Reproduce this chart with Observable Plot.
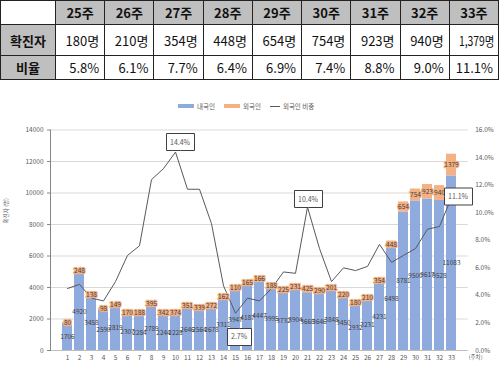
<!DOCTYPE html>
<html><head><meta charset="utf-8">
<script src="https://cdn.jsdelivr.net/npm/d3@7"></script>
<script src="https://cdn.jsdelivr.net/npm/@observablehq/plot@0.6"></script>
<style>
body{margin:0;background:#fff;font-family:"Noto Sans CJK KR",sans-serif;}
#wrap{position:relative;width:500px;height:366px;overflow:hidden;background:#fff}
table{position:absolute;left:0;top:0;border-collapse:collapse;table-layout:fixed;width:499px}
td{border:1px solid #222;padding:0;font-size:13px;color:#111;line-height:1;white-space:nowrap}
td.h{background:#bfbfbf;font-weight:bold;text-align:center}
td.blank{background:#fff}
td.v{text-align:right;padding-right:5px}
#legend{position:absolute;top:100px;left:178px;height:12px;display:flex;align-items:center;font-size:6.5px;color:#595959}
#legend .sw{display:inline-block;width:16px;height:4px;margin-right:3px}
#legend .ln{display:inline-block;width:10px;height:1px;background:#595959;margin-right:3px}
#legend .it{display:flex;align-items:center;margin-right:9px}
#chart{position:absolute;top:120px;left:0}
</style></head>
<body>
<div id="wrap">
<table id="tbl"></table>
<div id="legend"></div>
<div id="chart"></div>
</div>
<script>
// ---- table data ----
const tableWeeks = ["25주","26주","27주","28주","29주","30주","31주","32주","33주"];
const tableCases = ["180명","210명","354명","448명","654명","754명","923명","940명","1,379명"];
const tableRatio = ["5.8%","6.1%","7.7%","6.4%","6.9%","7.4%","8.8%","9.0%","11.1%"];
const rowLabels = ["확진자","비율"];

// ---- chart data ----
const weeks = [1,2,3,4,5,6,7,8,9,10,11,12,13,14,15,16,17,18,19,20,21,22,23,24,25,26,27,28,29,30,31,32,33];
const domestic = [1706,4920,3458,2590,2819,2307,2284,2789,2244,2228,2646,2564,2678,3311,3947,4187,4447,3995,3732,3904,3668,3646,3848,3450,2932,3231,4231,6498,8781,9500,9617,9528,11083];
const foreign = [80,248,138,98,149,170,188,395,342,374,351,339,272,162,110,165,166,188,225,231,425,290,201,220,180,210,354,448,654,754,923,940,1379];
const foreignShare = [4.5,4.8,3.8,3.6,5.0,6.9,7.6,12.4,13.2,14.4,11.7,11.7,9.2,4.7,2.7,3.8,3.6,4.5,5.7,5.6,10.4,7.4,5.0,6.0,5.8,6.1,7.7,6.4,6.9,7.4,8.8,9.0,11.1];
const series = ["내국인","외국인"];
const lineName = "외국인 비중";
const yTicks = [0,2000,4000,6000,8000,10000,12000,14000];
const pctTicks = [0,2,4,6,8,10,12,14,16];
const callouts = [
  {week:10, anchor:"bottom", dx:5, dy:-2},
  {week:15, anchor:"top", dx:4, dy:15},
  {week:21, anchor:"bottom", dx:1, dy:0},
  {week:33, anchor:"left", dx:-7, dy:-1}
];
const colors = ["#8faadc","#f4b183"];

// ---- build table ----
const tbl = document.getElementById("tbl");
let html = '<colgroup><col style="width:55px">' + tableWeeks.map(()=>'<col>').join('') + '</colgroup>';
html += '<tr style="height:24px"><td class="blank"></td>' + tableWeeks.map(w=>`<td class="h">${w}</td>`).join('') + '</tr>';
html += `<tr style="height:31px"><td class="h">${rowLabels[0]}</td>` + tableCases.map(c=> c.length>5 ? `<td class="v"><span style="display:inline-block;transform:scaleX(0.8);transform-origin:right">${c}</span></td>` : `<td class="v">${c}</td>`).join('') + '</tr>';
html += `<tr style="height:24px"><td class="h">${rowLabels[1]}</td>` + tableRatio.map(c=>`<td class="v">${c}</td>`).join('') + '</tr>';
tbl.innerHTML = html;

// ---- legend ----
document.getElementById("legend").innerHTML =
  series.map((s,i)=>`<span class="it"><span class="sw" style="background:${colors[i]}"></span>${s}</span>`).join('') +
  `<span class="it"><span class="ln"></span>${lineName}</span>`;

// ---- chart ----
const k = 14000 / 16; // percent -> left-axis units (dual axis)
const rows = weeks.flatMap((w,i)=>[
  {week:w, type:series[0], value:domestic[i], base:0},
  {week:w, type:series[1], value:foreign[i], base:domestic[i]}
]);
const shareRows = weeks.map((w,i)=>({week:w, pct:foreignShare[i]}));

const tipOpts = (c) => ({
  x:"week", y:d=>d.pct*k, title:d=>d.pct.toFixed(1)+"%",
  anchor:c.anchor, dx:c.dx, dy:c.dy, pointerSize:0, pathFilter:"none",
  fill:"white", stroke:"#404040", fontSize:7, textPadding:3.5
});

const plot = Plot.plot({
  width:500, height:246,
  marginTop:9.5, marginBottom:16, marginLeft:50, marginRight:32.3,
  style:{fontFamily:"'Noto Sans CJK KR', sans-serif", fontSize:"6.5px", color:"#595959", background:"transparent"},
  x:{type:"band", domain:weeks, paddingInner:0.2, paddingOuter:0.1, axis:null},
  y:{domain:[0,14000], axis:null},
  color:{domain:series, range:colors},
  marks:[
    Plot.gridY(yTicks, {stroke:"#d9d9d9", strokeOpacity:1}),
    Plot.barY(rows, {x:"week", y1:"base", y2:d=>d.base+d.value, fill:"type"}),
    Plot.ruleY([0], {stroke:"#bfbfbf"}),
    Plot.frame({anchor:"left", stroke:"#868686"}),
    Plot.axisY({anchor:"left", ticks:yTicks, tickSize:3, tickPadding:4, tickFormat:d=>String(d), label:null, stroke:"#868686"}),
    Plot.axisY({anchor:"right", ticks:pctTicks.map(p=>p*k), tickSize:0, tickPadding:7, tickFormat:d=>(d/k).toFixed(1)+"%", label:null}),
    Plot.axisX({tickSize:0, tickPadding:5, label:null}),
    Plot.text(["확진자 (명)"], {frameAnchor:"left", dx:-44, dy:-17, rotate:-90, fontSize:5.5}),
    Plot.text(["(주차)"], {frameAnchor:"bottom-right", textAnchor:"start", dx:0.5, dy:8, fontSize:5.5}),
    Plot.lineY(shareRows, {x:"week", y:d=>d.pct*k, stroke:"#595959", strokeWidth:1}),
    Plot.text(rows.filter(d=>d.type===series[0]), {x:"week", y:d=>d.base+d.value/2, text:d=>String(d.value), fill:"#404040", fontSize:6.5}),
    Plot.text(rows.filter(d=>d.type===series[1]), {x:"week", y:d=>d.base+d.value/2, text:d=>String(d.value), fill:"#404040", stroke:colors[1], strokeWidth:2.5, fontSize:6.5}),
    ...callouts.map(c=>Plot.tip(shareRows.filter(d=>d.week===c.week), tipOpts(c)))
  ]
});
document.getElementById("chart").appendChild(plot);
</script>
</body></html>
